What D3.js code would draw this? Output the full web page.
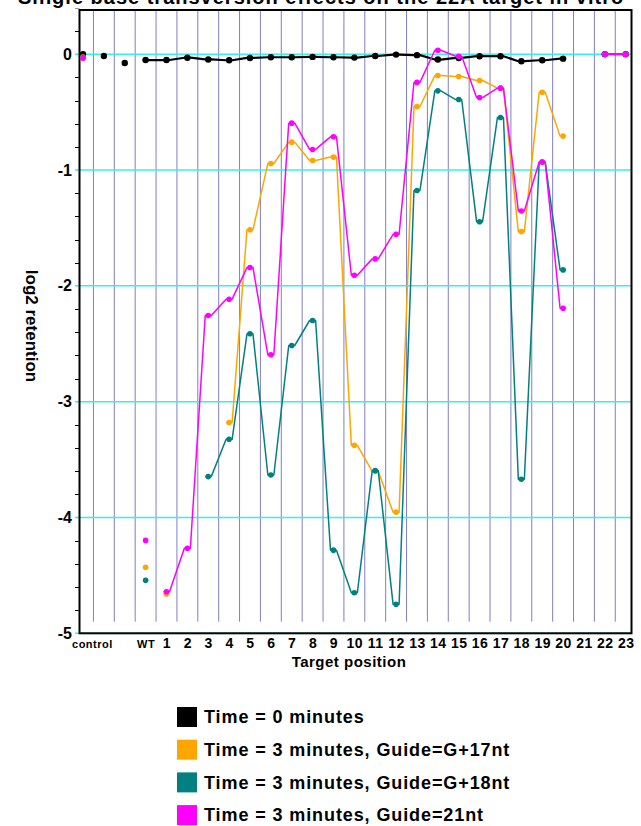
<!DOCTYPE html>
<html>
<head>
<meta charset="utf-8">
<script src="https://cdn.jsdelivr.net/npm/d3@7/dist/d3.min.js"></script>
<style>
  body { margin: 0; background: #fff; }
  svg { display: block; }
  text { font-family: "Liberation Sans", Arial, sans-serif; font-weight: bold; fill: #000; }
</style>
</head>
<body>
<div id="chart"></div>
<script>
// categories along the x axis (3 control slots, WT, then target positions 1-23)
const categories = ["c1", "c2", "c3", "WT", "1", "2", "3", "4", "5", "6", "7", "8", "9", "10",
    "11", "12", "13", "14", "15", "16", "17", "18", "19", "20", "21", "22", "23"];
const xTickLabels = ["control", "", "", "WT", "1", "2", "3", "4", "5", "6", "7", "8", "9", "10",
    "11", "12", "13", "14", "15", "16", "17", "18", "19", "20", "21", "22", "23"];

const seriesNames = ["Time = 0 minutes", "Time = 3 minutes, Guide=G+17nt",
    "Time = 3 minutes, Guide=G+18nt", "Time = 3 minutes, Guide=21nt"];

// log2 retention, one value per category (null = no measurement)
const time0 = [0, -0.015, -0.075, -0.05, -0.05, -0.03, -0.045, -0.052, -0.032, -0.026, -0.026, -0.023, -0.026, -0.029,
    -0.015, -0.003, -0.008, -0.046, -0.032, -0.017, -0.017, -0.06, -0.052, -0.038, null, 0, 0];
const guideG17 = [-0.025, null, null, -4.43, -4.66, null, null, -3.18, -1.515, -0.943, -0.759, -0.917, -0.888, -3.377,
    -3.601, -3.954, -0.451, -0.184, -0.193, -0.227, -0.293, -1.532, -0.328, -0.707, null, 0, 0];
const guideG18 = [-0.03, null, null, -4.543, null, null, -3.647, -3.325, -2.414, -3.633, -2.515, -2.299, -4.282, -4.65,
    -3.595, -4.75, -1.176, -0.316, -0.391, -1.446, -0.546, -3.67, -0.931, -1.862, null, 0, 0];
const guide21 = [-0.035, null, null, -4.198, -4.641, -4.265, -2.256, -2.115, -1.842, -2.595, -0.595, -0.822, -0.713, -1.908,
    -1.767, -1.555, -0.243, 0.034, -0.017, -0.374, -0.293, -1.353, -0.931, -2.193, null, 0, 0];

// first category joined by the line for each series
const lineStart = ["WT", "1", "1", "1"];
const colors = ["#000000", "#FFA500", "#008080", "#FF00FF"];

const yMajorTicks = [0, -1, -2, -3, -4, -5];

(() => {
    const width = 641, height = 826;
    const plot = { left: 79.5, right: 631.5, top: 10, bottom: 633.3 };

    document.addEventListener("DOMContentLoaded", () => {
        const values = [time0, guideG17, guideG18, guide21];
        const series = seriesNames.map((name, s) => ({
            name,
            color: colors[s],
            start: categories.indexOf(lineStart[s]),
            points: categories.map((c, i) => ({ cat: c, i, v: values[s][i] }))
        }));

        const svg = d3.select("#chart")
            .append("svg")
            .attr("width", width)
            .attr("height", height);

        const x = d3.scalePoint()
            .domain(categories)
            .range([83, 625.7]);
        const step = x.step();

        const y = d3.scaleLinear()
            .domain([-5, 0.382])
            .range([plot.bottom, plot.top]);

        // title, mostly cut off at the top edge (as in the source image)
        svg.append("text")
            .attr("x", 18)
            .attr("y", 4)
            .style("font-size", "20px")
            .style("letter-spacing", "1px")
            .text("Single base transversion effects on the 22A target in vitro");

        // vertical separators between categories
        svg.append("g")
            .selectAll("line")
            .data(categories.slice(1))
            .join("line")
            .attr("x1", d => x(d) - step / 2)
            .attr("x2", d => x(d) - step / 2)
            .attr("y1", plot.top)
            .attr("y2", 621.7)
            .attr("stroke", "#7f7fc6")
            .attr("stroke-width", 1);

        // minor ticks on the y axis
        const minor = d3.range(-4.8, 0.41, 0.2).filter(v => Math.abs(v - Math.round(v)) > 0.01);
        svg.append("g")
            .selectAll("line")
            .data(minor)
            .join("line")
            .attr("x1", plot.left - 4.5)
            .attr("x2", plot.left)
            .attr("y1", d => Math.round(y(d)) + 0.5)
            .attr("y2", d => Math.round(y(d)) + 0.5)
            .attr("stroke", d => d > 0.39 ? "#999" : "#000")
            .attr("stroke-width", 1);

        // horizontal grid at whole numbers (cyan)
        svg.append("g")
            .selectAll("line")
            .data(yMajorTicks)
            .join("line")
            .attr("x1", plot.left - 4.5)
            .attr("x2", plot.right)
            .attr("y1", d => y(d))
            .attr("y2", d => y(d))
            .attr("stroke", "#33f0f0")
            .attr("stroke-width", 1.5);

        // frame
        svg.append("rect")
            .attr("x", plot.left)
            .attr("y", plot.top)
            .attr("width", plot.right - plot.left)
            .attr("height", plot.bottom - plot.top)
            .attr("fill", "none")
            .attr("stroke", "#000")
            .attr("stroke-width", 2);

        // y tick labels
        svg.append("g")
            .selectAll("text")
            .data(yMajorTicks)
            .join("text")
            .attr("x", 72)
            .attr("y", d => y(d) + 5.5)
            .attr("text-anchor", "end")
            .style("font-size", "16px")
            .text(d => d3.format("d")(d).replace("−", "-"));

        // x tick labels
        svg.append("g")
            .selectAll("text")
            .data(xTickLabels.map((t, i) => ({ t, c: categories[i] })).filter(d => d.t))
            .join("text")
            .attr("x", d => d.t === "control" ? x(d.c) + step / 2 - 1 : x(d.c) + 0.5)
            .attr("y", 648)
            .attr("text-anchor", "middle")
            .style("font-size", d => isNaN(+d.t) ? "11px" : "14px")
            .style("letter-spacing", "0.5px")
            .text(d => d.t);

        // axis titles
        svg.append("text")
            .attr("x", 349)
            .attr("y", 667)
            .attr("text-anchor", "middle")
            .style("font-size", "15px")
            .style("letter-spacing", "0.5px")
            .text("Target position");

        svg.append("text")
            .attr("transform", "translate(26,326) rotate(90)")
            .attr("text-anchor", "middle")
            .style("font-size", "17px")
            .text("log2 retention");

        // lines: each point is a short flat step so the trace levels off at the marker
        const line = d3.line()
            .defined(d => d.v !== null && d.ok)
            .x(d => x(d.cat) + d.dx)
            .y(d => y(d.v));

        const layers = svg.append("g");
        series.forEach(s => {
            const verts = s.points.flatMap(p => [-3, 3].map(dx => ({ ...p, dx, ok: p.i >= s.start })));
            layers.append("path")
                .attr("d", line(verts))
                .attr("fill", "none")
                .attr("stroke", s.color)
                .attr("stroke-width", s.color === "#000000" ? 2.2 : 1.5)
                .attr("stroke-linejoin", "round");

            layers.append("g")
                .selectAll("circle")
                .data(s.points.filter(p => p.v !== null))
                .join("circle")
                .attr("cx", p => x(p.cat))
                .attr("cy", p => y(p.v))
                .attr("r", s.color === "#000000" ? 3.2 : 2.8)
                .attr("fill", s.color);
        });

        // legend
        const legend = svg.append("g")
            .selectAll("g")
            .data(series)
            .join("g")
            .attr("transform", (d, i) => `translate(177,${707 + i * 32.7})`);

        legend.append("rect")
            .attr("width", 20)
            .attr("height", 20)
            .attr("fill", d => d.color);

        legend.append("text")
            .attr("x", 27)
            .attr("y", 16.3)
            .style("font-size", "18px")
            .style("letter-spacing", "0.9px")
            .text(d => d.name);
    });
})();
</script>
</body>
</html>
